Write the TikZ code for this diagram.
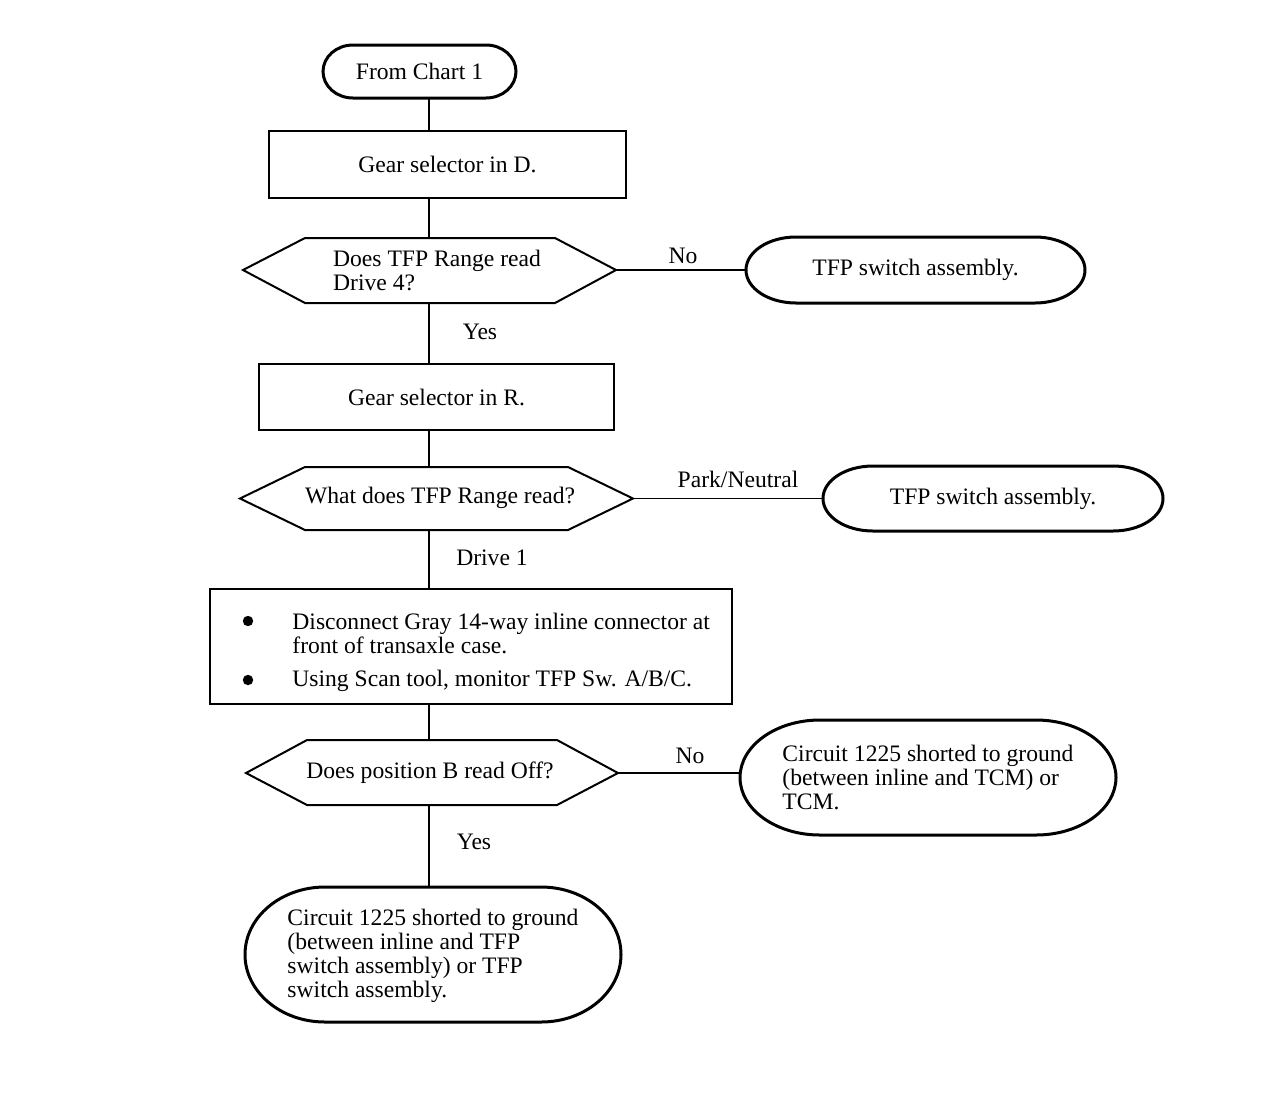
\documentclass[tikz,border=0pt]{standalone}
\usepackage{fontspec}
\setmainfont{Liberation Serif}
\newcommand\termshape[7]{% x1 y1 x2 y2 rx(px) rx(pt) ry(pt)
  \draw[termline] ({#1+#5},#2) -- ({#3-#5},#2)
    arc[start angle=90,end angle=-90,x radius=#6,y radius=#7]
    -- ({#1+#5},#4)
    arc[start angle=270,end angle=90,x radius=#6,y radius=#7] -- cycle;}
\begin{document}
\begin{tikzpicture}[x=0.5pt,y=-0.5pt,
  font=\fontsize{11.8}{12}\selectfont,
  termline/.style={line width=1.5pt},
  boxline/.style={draw,line width=1pt,inner sep=0pt},
  hexline/.style={line width=1pt},
  conn/.style={line width=0.7pt},
  txt/.style={inner sep=0pt,align=left},
  lbl/.style={inner sep=0pt}]
\useasboundingbox (0,0) rectangle (1264,1094);
\coordinate (sp) at (429,0);

% terminal: From Chart 1
\termshape{323}{45}{516}{98}{30}{15pt}{13.25pt}
\node[txt,minimum width=96.5pt,minimum height=26.5pt] (t0) at (419.5,71.5) {From Chart 1};

% box 1
\node[boxline,minimum width=178.5pt,minimum height=33.5pt] (b1) at (447.5,164.5) {Gear selector in D.};

% hexagon 1
\coordinate (q1l) at (243,270);
\coordinate (q1r) at (616,270);
\coordinate (q1t) at (429,238);
\coordinate (q1b) at (429,303);
\draw[hexline] (q1l) -- (305,238) -- (555,238) -- (q1r) -- (555,303) -- (305,303) -- cycle;
\node[txt] (q1) at (437,270.5) {Does TFP Range read\\Drive 4?};

% terminal 1
\termshape{746}{237}{1085}{303}{50}{25pt}{16.5pt}
\node[txt,minimum width=169.5pt,minimum height=33pt] (t1) at (915.5,270) {TFP switch assembly.};

% box 2
\node[boxline,minimum width=177.5pt,minimum height=33pt] (b2) at (436.5,397) {Gear selector in R.};

% hexagon 2
\coordinate (q2l) at (240,498.5);
\coordinate (q2r) at (633,498.5);
\coordinate (q2t) at (429,467);
\coordinate (q2b) at (429,530);
\draw[hexline] (q2l) -- (305,467) -- (568,467) -- (q2r) -- (568,530) -- (305,530) -- cycle;
\node[txt] (q2) at (440,498) {What does TFP Range read?};

% terminal 2
\termshape{823}{466}{1163}{531}{50}{25pt}{16.25pt}
\node[txt,minimum width=170pt,minimum height=32.5pt] (t2) at (993,498.5) {TFP switch assembly.};

% box 3
\node[boxline,minimum width=261pt,minimum height=57.5pt] (b3) at (471,646.5) {};
\fill (248,621) circle[radius=2.6pt];
\fill (248,680) circle[radius=2.6pt];
\node[txt,anchor=west] (b3a) at (292,633) {Disconnect Gray 14-way inline connector at\\front of transaxle case.};
\node[txt,anchor=west] (b3b) at (292,681) {Using Scan tool, monitor TFP Sw. A/B/C.};

% hexagon 3
\coordinate (q3l) at (246,773);
\coordinate (q3r) at (618,773);
\coordinate (q3t) at (429,740);
\coordinate (q3b) at (429,805);
\draw[hexline] (q3l) -- (307,740) -- (557,740) -- (q3r) -- (557,805) -- (307,805) -- cycle;
\node[txt] (q3) at (430,773) {Does position B read Off?};

% terminal 3
\termshape{740}{720}{1116}{835}{80}{40pt}{28.75pt}
\node[txt,minimum width=188pt,minimum height=57.5pt] (t3) at (928,777.5) {Circuit 1225 shorted to ground\\(between inline and TCM) or\\TCM.};

% terminal 4
\termshape{245}{887}{621}{1022}{80}{40pt}{33.75pt}
\node[txt,minimum width=188pt,minimum height=67.5pt] (t4) at (433,955.5) {Circuit 1225 shorted to ground\\(between inline and TFP\\switch assembly) or TFP\\switch assembly.};

% spine connectors
\draw[conn] (sp |- t0.south) -- (sp |- b1.north);
\draw[conn] (sp |- b1.south) -- (q1t);
\draw[conn] (q1b) -- (sp |- b2.north);
\draw[conn] (sp |- b2.south) -- (q2t);
\draw[conn] (q2b) -- (sp |- b3.north);
\draw[conn] (sp |- b3.south) -- (q3t);
\draw[conn] (q3b) -- (sp |- t4.north);

% side connectors
\draw[conn] (q1r) -- (q1r -| t1.west);
\draw[conn] (q2r) -- (q2r -| t2.west);
\draw[conn] (q3r) -- (q3r -| t3.west);

% labels
\node[lbl] (l1) at (683,256) {No};
\node[lbl] (l2) at (480,332) {Yes};
\node[lbl] (l3) at (738,479) {Park/Neutral};
\node[lbl] (l4) at (492,558) {Drive 1};
\node[lbl] (l5) at (690,756) {No};
\node[lbl] (l6) at (474,842) {Yes};
\end{tikzpicture}
\end{document}
